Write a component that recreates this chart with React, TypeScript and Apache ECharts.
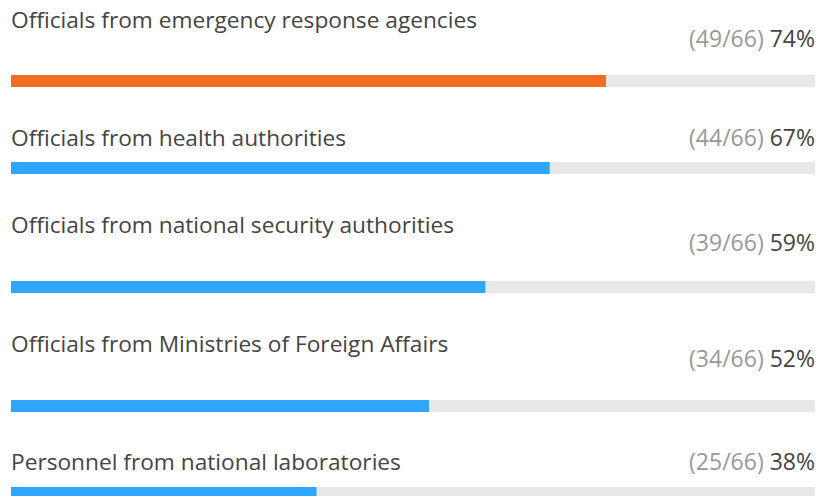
import React, { useEffect, useRef } from "react";
import * as echarts from "echarts";

const categories = [
  "Officials from emergency response agencies",
  "Officials from health authorities",
  "Officials from national security authorities",
  "Officials from Ministries of Foreign Affairs",
  "Personnel from national laboratories",
];
const counts = [49, 44, 39, 34, 25];
const total = 66;
const percents = [74, 67, 59, 52, 38];

// layout per row: bar top (px), label offset, percent offset (relative to bar top)
const barTops = [75, 162, 281, 400, 487];
const labelOffsets = [-56, -25, -57, -57, -26];
const pctOffsets = [-37, -25, -39, -42, -26];
const barColors = ["#F26C22", "#2EA6FD", "#2EA6FD", "#2EA6FD", "#2EA6FD"];

const FONT = "'Open Sans', 'Noto Sans', sans-serif";

export default function App() {
  const ref = useRef<HTMLDivElement>(null);
  useEffect(() => {
    document.body.style.margin = "0";
    if (!ref.current) return;
    const chart = echarts.init(ref.current, undefined, { renderer: "svg" });
    const grids: any[] = [];
    const xAxes: any[] = [];
    const yAxes: any[] = [];
    const series: any[] = [];
    categories.forEach((cat, i) => {
      grids.push({ left: 11, right: 4, top: barTops[i], height: 12 });
      xAxes.push({ type: "value", gridIndex: i, min: 0, max: 100, show: false });
      yAxes.push({ type: "category", gridIndex: i, data: [cat], show: false });
      series.push({
        type: "bar",
        xAxisIndex: i,
        yAxisIndex: i,
        data: [100],
        barWidth: 12,
        barGap: "-100%",
        itemStyle: { color: "#E8E8E8" },
        silent: true,
        z: 1,
        label: {
          show: true,
          position: ["100%", pctOffsets[i]],
          align: "right",
          verticalAlign: "middle",
          formatter: () => `{a|(${counts[i]}/${total})}{b|${percents[i]}%}`,
          rich: {
            a: { color: "#999999", fontSize: 23, fontFamily: FONT },
            b: { color: "#444444", fontSize: 23, fontFamily: FONT, padding: [0, 0, 0, 6] },
          },
        },
      });
      series.push({
        type: "bar",
        xAxisIndex: i,
        yAxisIndex: i,
        data: [percents[i]],
        barWidth: 12,
        barGap: "-100%",
        itemStyle: { color: barColors[i] },
        z: 2,
        label: {
          show: true,
          position: [0, labelOffsets[i]],
          align: "left",
          verticalAlign: "middle",
          formatter: () => cat,
          color: "#444444",
          fontSize: 22.7,
          fontFamily: FONT,
        },
      });
    });
    chart.setOption({
      animation: false,
      backgroundColor: "#ffffff",
      grid: grids,
      xAxis: xAxes,
      yAxis: yAxes,
      series,
    });
    return () => chart.dispose();
  }, []);
  return <div ref={ref} style={{ width: 819, height: 496 }} />;
}
